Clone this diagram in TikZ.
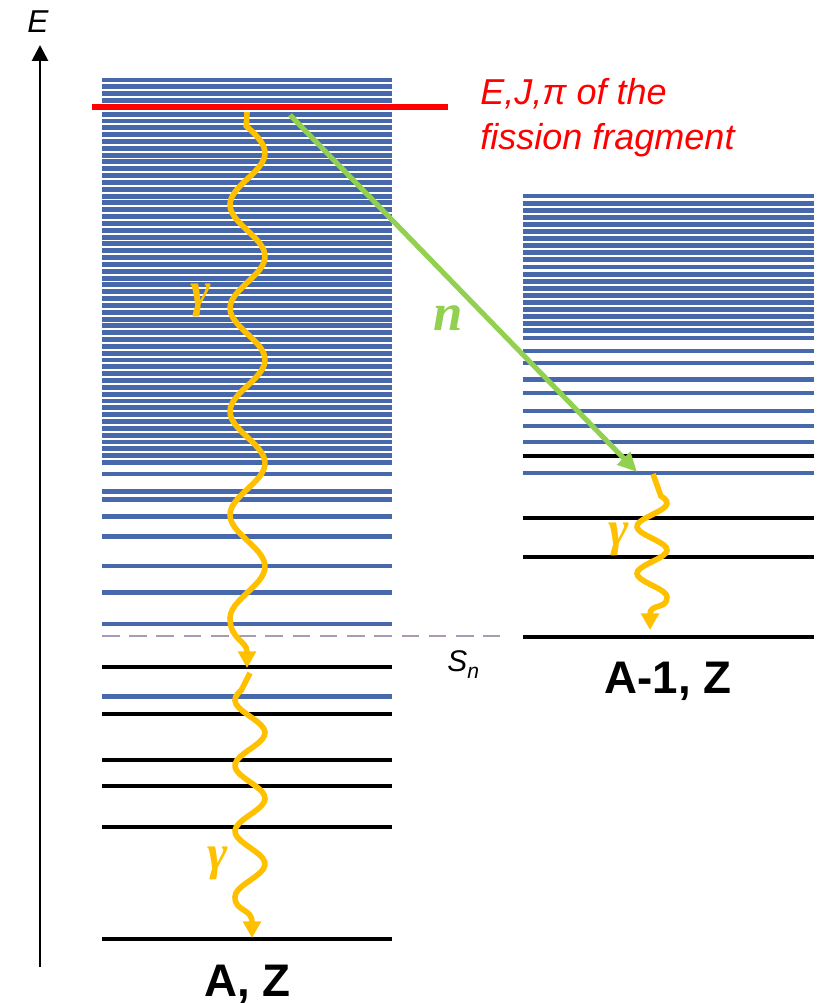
\documentclass[tikz,border=0pt]{standalone}
\usepackage{fontspec}
\setmainfont{Liberation Sans}
\newfontfamily\symbfont{Liberation Serif}
\usetikzlibrary{arrows.meta}
\definecolor{lvlblue}{RGB}{72,104,172}
\definecolor{gold}{RGB}{255,192,0}
\definecolor{ngreen}{RGB}{146,208,80}
\definecolor{snline}{RGB}{168,156,178}
\begin{document}
\begin{tikzpicture}[x=.02cm,y=-.02cm,
  bluelvl/.style={lvlblue,line width=2.8pt},
  blacklvl/.style={black,line width=2.2pt},
  gammaray/.style={gold,line width=3.2pt,-{Triangle[length=9.5pt,width=10pt]}},
  gammalbl/.style={gold,font=\fontsize{28}{28}\selectfont\symbfont\bfseries\itshape},
  nuclname/.style={anchor=base,font=\fontsize{26}{26}\selectfont\bfseries}]
\useasboundingbox (0,0) rectangle (828,1003);
\foreach \i in {0,...,56} \draw[bluelvl] (102,{80+\i*6.83})--(392,{80+\i*6.83});
\foreach \y in {474,491.7,499.3,516.7,536.7,566,592.3,624,696.5} \draw[bluelvl] (102,\y)--(392,\y);
\foreach \y in {667.3,714,760,786,826.7,938.7} \draw[blacklvl] (102,\y)--(392,\y);
\foreach \i in {0,...,20} \draw[bluelvl] (523,{196+\i*7.1})--(814,{196+\i*7.1});
\foreach \y in {351,363,379.5,393,411,426,442,473} \draw[bluelvl] (523,\y)--(814,\y);
\foreach \y in {456,518,557,637} \draw[blacklvl] (523,\y)--(814,\y);
\draw[red,line width=3.2pt] (92,107)--(448,107);
\draw[snline,line width=1.5pt,dash pattern=on 10pt off 5.5pt] (102,636)--(500,636);
\coordinate (axbot) at (40,967);\coordinate (axtop) at (40,45);
\draw[line width=1.6pt,-{Triangle[length=9pt,width=9pt]}] (axbot)--(axtop);
\coordinate (nstart) at (290,115);\coordinate (nend) at (637,472);
\draw[ngreen,line width=2.9pt,-{Triangle[length=11pt,width=10pt]}] (nstart)--(nend);
\draw[gammaray] (247,112)--plot[domain=126:618,samples=120] ({247.5+17.5*sin(90+(\x-153)*3.4816)},\x) .. controls (230,640) and (247,640) .. (247,668);
\draw[gammaray] (250,673)--plot[domain=690:897,samples=60] ({250+15*sin(-90+(\x-700)*5.4878)},\x) .. controls (235,912) and (252,908) .. (252,938);
\draw[gammaray] (653,474)--plot[domain=496:597,samples=40] ({652+15*sin(90+(\x-503)*7.6596)},\x) .. controls (667,610) and (650,603) .. (650,630);
\node[font=\fontsize{18}{18}\selectfont\itshape] (axislbl) at (38,22) {E};
\node[red,anchor=base west,inner sep=0pt,font=\fontsize{20.5}{20.5}\selectfont\itshape] (ejpi) at (480,105) {E,J,π of the};
\node[red,anchor=base west,inner sep=0pt,font=\fontsize{20.5}{20.5}\selectfont\itshape] (fission) at (480,150) {fission fragment};
\node[anchor=base west,inner sep=0pt,font=\fontsize{17}{17}\selectfont\itshape] (snlbl) at (447,671) {S\raisebox{-4pt}{\fontsize{12}{12}\selectfont n}};
\node[gammalbl] (gtop) at (201,300) {γ};
\node[gammalbl] (glow) at (218,863) {γ};
\node[gammalbl] (gright) at (619,539) {γ};
\node[ngreen,font=\fontsize{30}{30}\selectfont\symbfont\bfseries\itshape] (nlbl) at (448,318) {n};
\node[nuclname] (az) at (247.5,996) {A, Z};
\node[nuclname] (aoz) at (668,693) {A-1, Z};
\end{tikzpicture}
\end{document}
